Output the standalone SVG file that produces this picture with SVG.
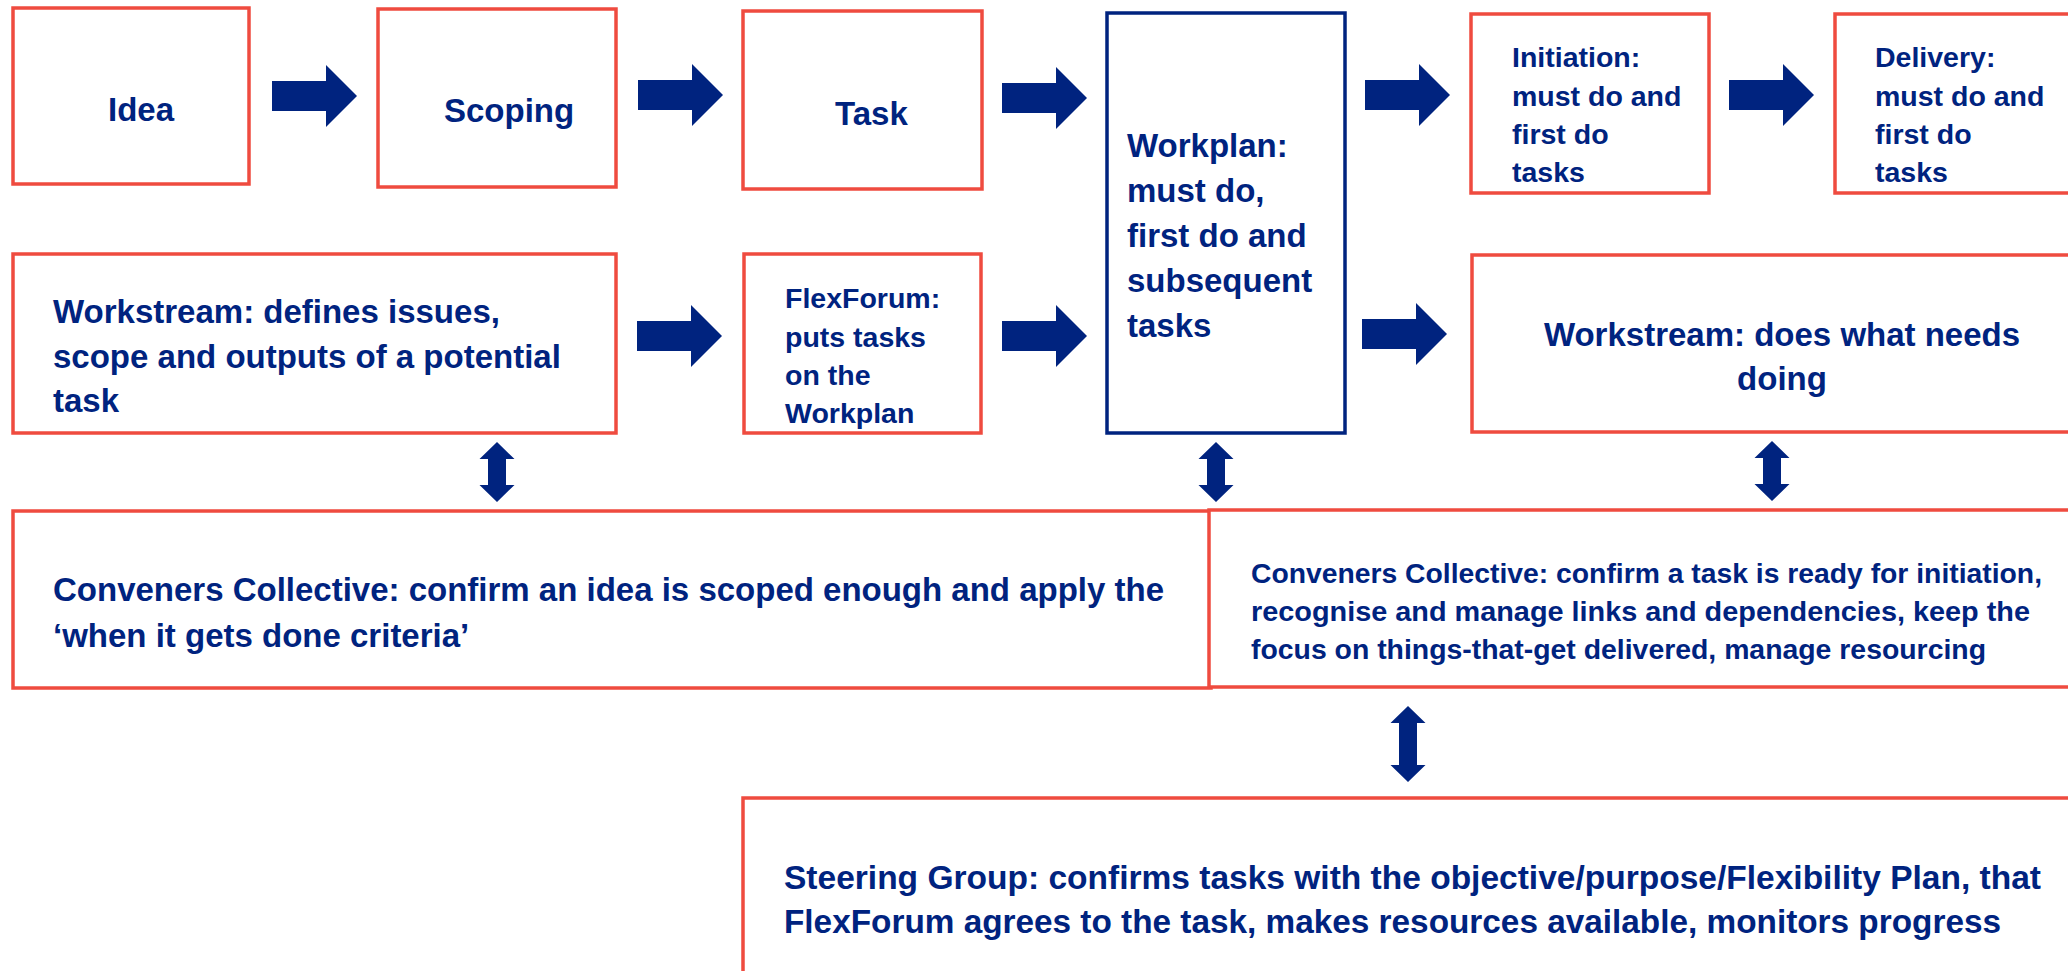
<svg xmlns="http://www.w3.org/2000/svg" width="2068" height="971" viewBox="0 0 2068 971">
<style>
.box{fill:#ffffff;stroke:#EF4B3F;stroke-width:3.5}
.wp{fill:#ffffff;stroke:#00237F;stroke-width:3.5}
.t{font-family:"Liberation Sans",Arial,sans-serif;font-weight:bold;fill:#00237F}
.l{font-size:33px}
.m{font-size:28.5px}
.s{font-size:27.5px}
.a{fill:#00237F}
</style>
<defs>
<path id="ra" d="M0,-15 H54 V-31 L85,0 L54,31 V15 H0 Z"/>
<path id="da" d="M0,0 L17.5,17 H9 V43 H17.5 L0,60 L-17.5,43 H-9 V17 H-17.5 Z"/>
<path id="da2" d="M0,0 L17.5,17 H9 V59 H17.5 L0,76 L-17.5,59 H-9 V17 H-17.5 Z"/>
</defs>
<rect width="2068" height="971" fill="#ffffff"/>

<g id="idea">
<rect class="box" x="13" y="8" width="236" height="176"/>
<text class="t l" x="108" y="121">Idea</text>
</g>
<g id="scoping">
<rect class="box" x="378" y="9" width="238" height="178"/>
<text class="t l" x="444" y="122">Scoping</text>
</g>
<g id="task">
<rect class="box" x="743" y="11" width="239" height="178"/>
<text class="t l" x="835" y="125">Task</text>
</g>
<g id="workplan">
<rect class="wp" x="1107" y="13" width="238" height="420"/>
<text class="t l" x="1127" y="157">Workplan:</text>
<text class="t l" x="1127" y="202">must do,</text>
<text class="t l" x="1127" y="247">first do and</text>
<text class="t l" x="1127" y="292">subsequent</text>
<text class="t l" x="1127" y="337">tasks</text>
</g>
<g id="initiation">
<rect class="box" x="1471" y="14" width="238" height="179"/>
<text class="t m" x="1512" y="67">Initiation:</text>
<text class="t m" x="1512" y="106">must do and</text>
<text class="t m" x="1512" y="144">first do</text>
<text class="t m" x="1512" y="182">tasks</text>
</g>
<g id="delivery">
<rect class="box" x="1835" y="14" width="240" height="179"/>
<text class="t m" x="1875" y="67">Delivery:</text>
<text class="t m" x="1875" y="106">must do and</text>
<text class="t m" x="1875" y="144">first do</text>
<text class="t m" x="1875" y="182">tasks</text>
</g>
<g id="workstream-define">
<rect class="box" x="13" y="254" width="603" height="179"/>
<text class="t l" x="53" y="323">Workstream: defines issues,</text>
<text class="t l" x="53" y="368">scope and outputs of a potential</text>
<text class="t l" x="53" y="412">task</text>
</g>
<g id="flexforum">
<rect class="box" x="744" y="254" width="237" height="179"/>
<text class="t m" x="785" y="308">FlexForum:</text>
<text class="t m" x="785" y="347">puts tasks</text>
<text class="t m" x="785" y="385">on the</text>
<text class="t m" x="785" y="423">Workplan</text>
</g>
<g id="workstream-do">
<rect class="box" x="1472" y="255" width="620" height="177"/>
<text class="t l" x="1782" y="346" text-anchor="middle">Workstream: does what needs</text>
<text class="t l" x="1782" y="390" text-anchor="middle">doing</text>
</g>
<g id="conveners-left">
<rect class="box" x="13" y="511" width="1198" height="177"/>
<text class="t l" x="53" y="601" textLength="1111" lengthAdjust="spacingAndGlyphs">Conveners Collective: confirm an idea is scoped enough and apply the</text>
<text class="t l" x="53" y="647">‘when it gets done criteria’</text>
</g>
<g id="conveners-right">
<rect class="box" x="1209" y="510" width="880" height="177"/>
<text class="t s" x="1251" y="583" textLength="791" lengthAdjust="spacingAndGlyphs">Conveners Collective: confirm a task is ready for initiation,</text>
<text class="t s" x="1251" y="621" textLength="779" lengthAdjust="spacingAndGlyphs">recognise and manage links and dependencies, keep the</text>
<text class="t s" x="1251" y="659" textLength="735" lengthAdjust="spacingAndGlyphs">focus on things-that-get delivered, manage resourcing</text>
</g>
<g id="steering">
<rect class="box" x="743" y="798" width="1340" height="200"/>
<text class="t l" x="784" y="889" textLength="1257" lengthAdjust="spacingAndGlyphs">Steering Group: confirms tasks with the objective/purpose/Flexibility Plan, that</text>
<text class="t l" x="784" y="933" textLength="1217" lengthAdjust="spacingAndGlyphs">FlexForum agrees to the task, makes resources available, monitors progress</text>
</g>

<g id="connectors" class="a">
<use href="#ra" x="272" y="96"/>
<use href="#ra" x="638" y="95"/>
<use href="#ra" x="1002" y="98"/>
<use href="#ra" x="1365" y="95"/>
<use href="#ra" x="1729" y="95"/>
<use href="#ra" x="637" y="336"/>
<use href="#ra" x="1002" y="336"/>
<use href="#ra" x="1362" y="334"/>
<use href="#da" x="497" y="442"/>
<use href="#da" x="1216" y="442"/>
<use href="#da" x="1772" y="441"/>
<use href="#da2" x="1408" y="706"/>
</g>
</svg>
